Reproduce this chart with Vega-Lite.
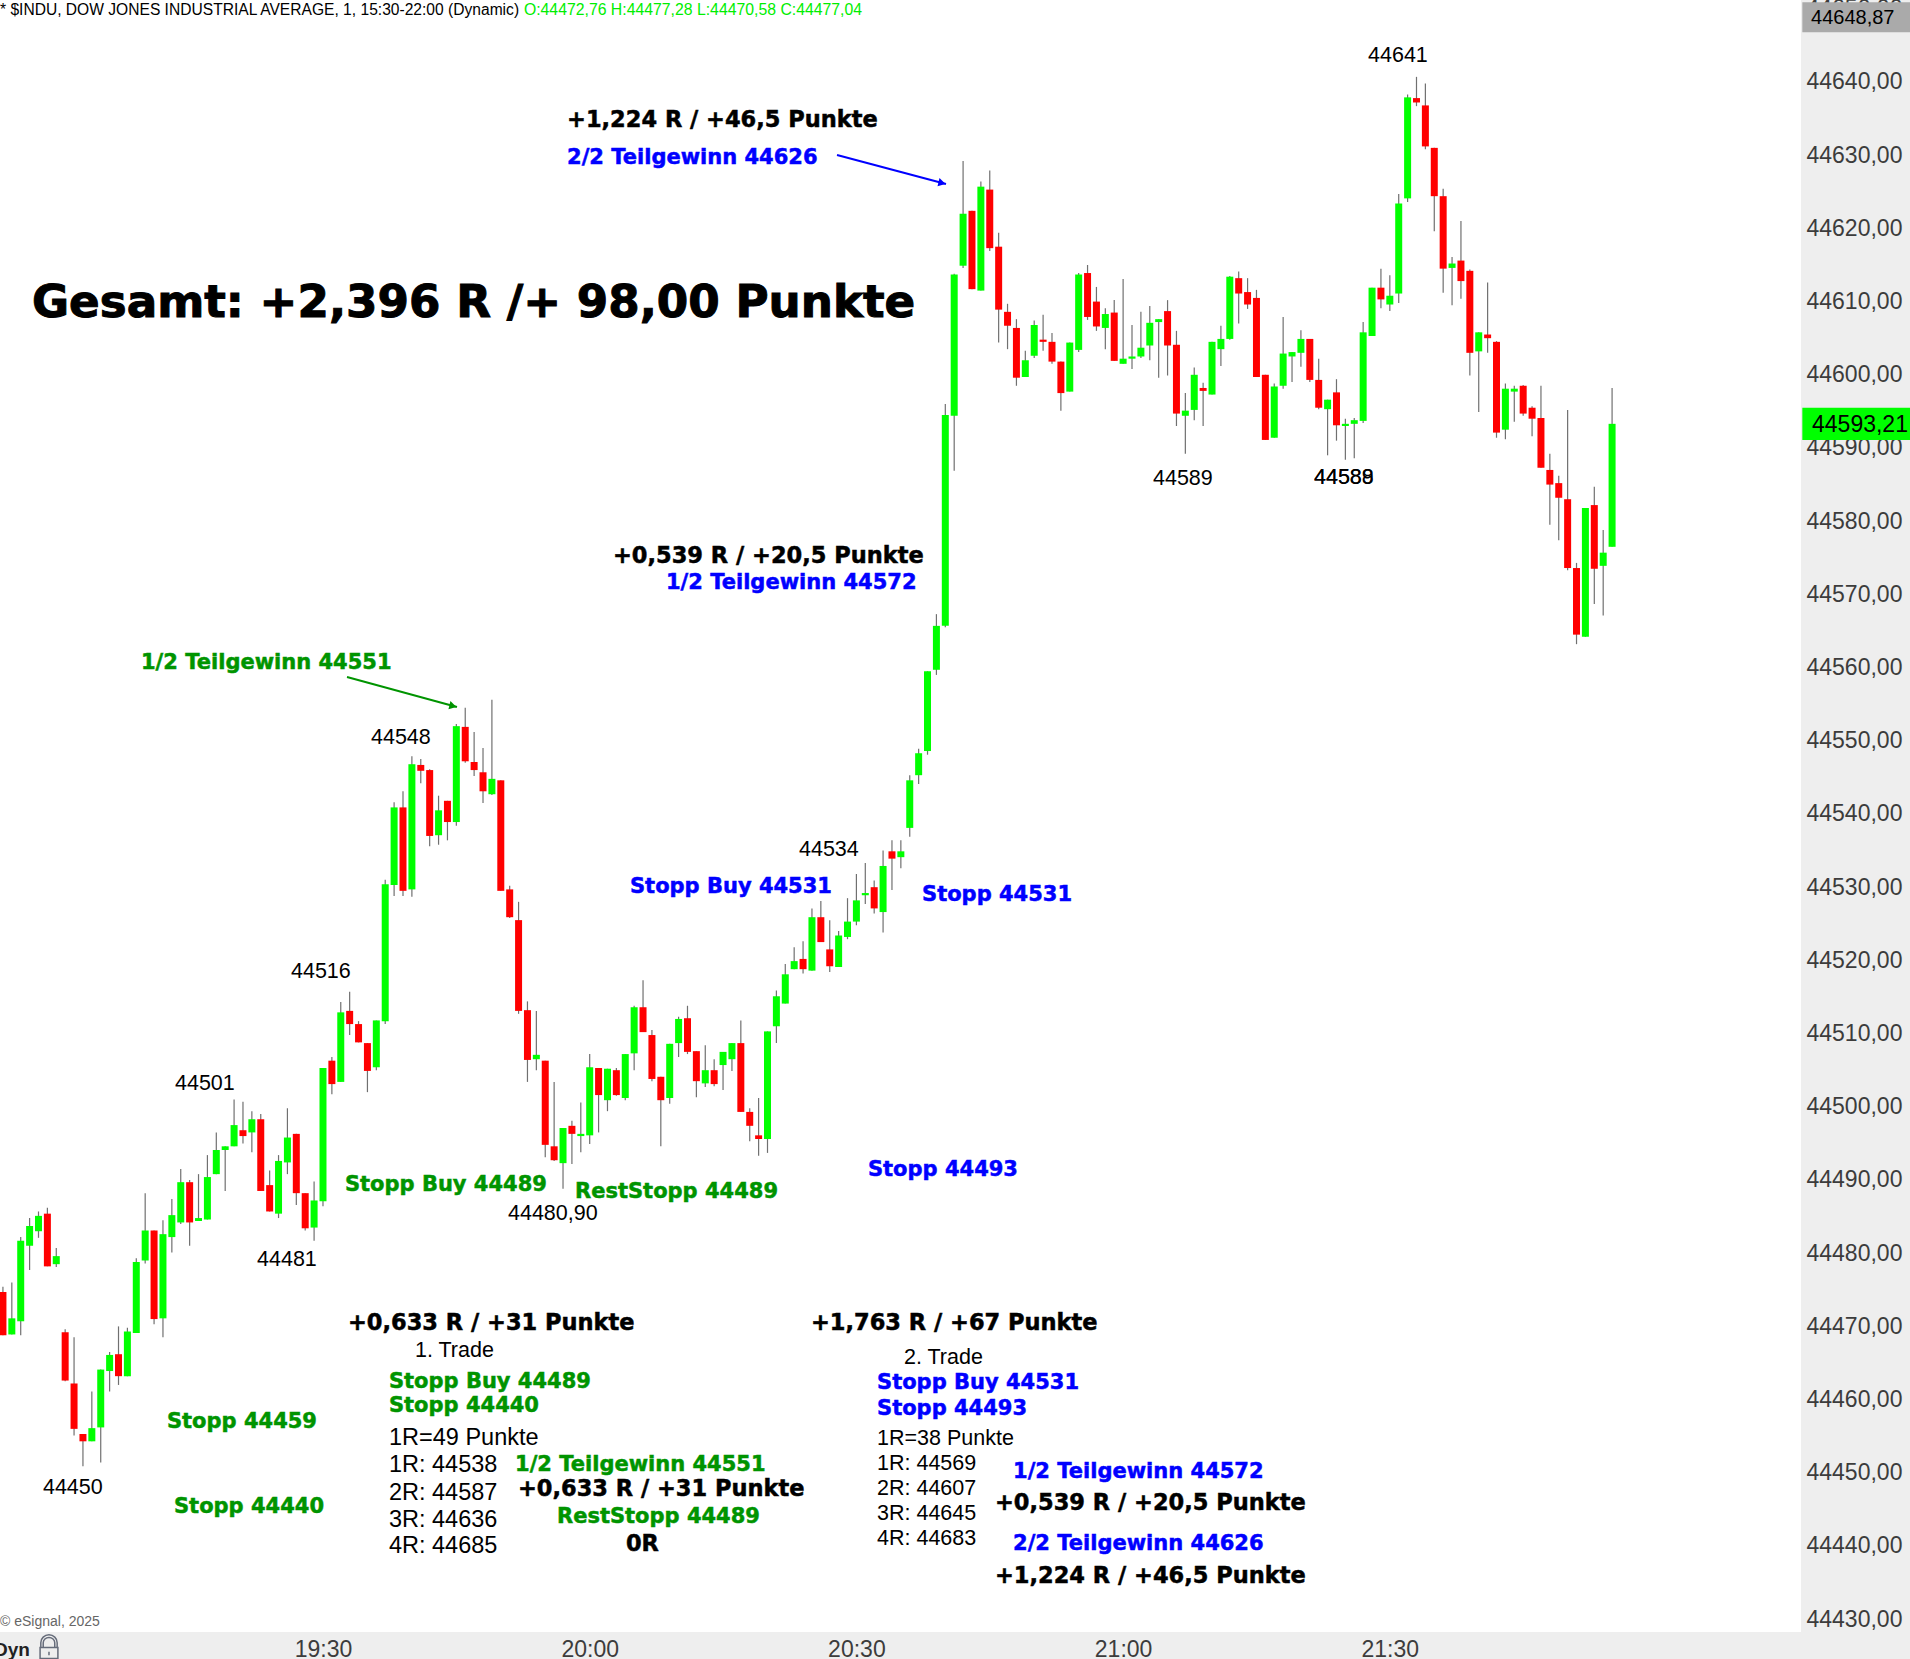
{"$schema":"https://vega.github.io/schema/vega-lite/v6.json","width":1801,"height":1632,"autosize":{"type":"none"},"padding":{"left":0,"top":0,"right":109,"bottom":27},"background":"#eeeeee","view":{"fill":"#ffffff","stroke":null},"config":{"text":{"font":"Liberation Sans"}},
"datasets":{"candles":[
{"m":1134,"o":44474.7,"h":44475.4,"l":44468.8,"c":44468.8},{"m":1135,"o":44468.9,"h":44476.0,"l":44468.9,"c":44471.1},{"m":1136,"o":44470.7,"h":44482.2,"l":44468.8,"c":44481.7},{"m":1137,"o":44481.0,"h":44484.8,"l":44477.7,"c":44483.7},{"m":1138,"o":44483.0,"h":44485.7,"l":44482.1,"c":44485.1},{"m":1139,"o":44485.4,"h":44486.2,"l":44478.2,"c":44478.2},{"m":1140,"o":44478.5,"h":44480.7,"l":44478.1,"c":44479.6},{"m":1141,"o":44469.2,"h":44469.6,"l":44462.5,"c":44462.6},{"m":1142,"o":44462.2,"h":44468.5,"l":44455.1,"c":44456.0},{"m":1143,"o":44455.3,"h":44455.3,"l":44450.9,"c":44454.3},{"m":1144,"o":44454.3,"h":44461.1,"l":44454.3,"c":44456.1},{"m":1145,"o":44456.2,"h":44464.1,"l":44451.4,"c":44464.1},{"m":1146,"o":44463.9,"h":44466.5,"l":44461.1,"c":44466.1},{"m":1147,"o":44466.2,"h":44470.0,"l":44462.0,"c":44463.2},{"m":1148,"o":44463.2,"h":44469.8,"l":44463.2,"c":44469.3},{"m":1149,"o":44469.1,"h":44479.3,"l":44469.1,"c":44478.8},{"m":1150,"o":44479.0,"h":44488.2,"l":44478.6,"c":44483.1},{"m":1151,"o":44483.1,"h":44483.1,"l":44470.3,"c":44471.0},{"m":1152,"o":44471.1,"h":44484.5,"l":44468.5,"c":44482.6},{"m":1153,"o":44482.2,"h":44487.4,"l":44480.1,"c":44485.2},{"m":1154,"o":44484.2,"h":44491.5,"l":44484.0,"c":44489.7},{"m":1155,"o":44489.7,"h":44490.0,"l":44481.0,"c":44484.2},{"m":1156,"o":44484.4,"h":44490.8,"l":44484.4,"c":44484.8},{"m":1157,"o":44484.6,"h":44493.4,"l":44484.6,"c":44490.4},{"m":1158,"o":44490.8,"h":44496.5,"l":44490.8,"c":44494.1},{"m":1159,"o":44494.1,"h":44494.6,"l":44488.5,"c":44494.6},{"m":1160,"o":44494.6,"h":44501.0,"l":44494.6,"c":44497.5},{"m":1161,"o":44496.8,"h":44500.7,"l":44495.0,"c":44496.0},{"m":1162,"o":44496.5,"h":44499.4,"l":44493.8,"c":44498.3},{"m":1163,"o":44498.3,"h":44499.0,"l":44488.5,"c":44488.5},{"m":1164,"o":44489.3,"h":44491.3,"l":44485.7,"c":44485.7},{"m":1165,"o":44485.4,"h":44493.4,"l":44484.8,"c":44492.6},{"m":1166,"o":44492.4,"h":44499.8,"l":44490.8,"c":44495.8},{"m":1167,"o":44496.3,"h":44496.3,"l":44486.6,"c":44488.2},{"m":1168,"o":44488.2,"h":44488.2,"l":44483.1,"c":44483.4},{"m":1169,"o":44483.5,"h":44489.8,"l":44481.7,"c":44487.2},
{"m":1170,"o":44487.1,"h":44505.3,"l":44486.4,"c":44505.3},{"m":1171,"o":44506.3,"h":44506.8,"l":44501.7,"c":44503.1},{"m":1172,"o":44503.4,"h":44514.3,"l":44503.4,"c":44512.9},{"m":1173,"o":44513.1,"h":44515.7,"l":44509.8,"c":44511.3},{"m":1174,"o":44511.3,"h":44511.7,"l":44508.8,"c":44508.8},{"m":1175,"o":44508.7,"h":44508.7,"l":44502.0,"c":44504.9},{"m":1176,"o":44505.4,"h":44511.8,"l":44505.0,"c":44511.8},{"m":1177,"o":44511.7,"h":44531.0,"l":44511.3,"c":44530.4},{"m":1178,"o":44530.3,"h":44541.6,"l":44528.8,"c":44540.9},{"m":1179,"o":44540.9,"h":44543.1,"l":44528.8,"c":44529.5},{"m":1180,"o":44529.7,"h":44547.9,"l":44528.7,"c":44546.8},{"m":1181,"o":44546.7,"h":44547.5,"l":44544.2,"c":44545.9},{"m":1182,"o":44546.0,"h":44546.1,"l":44535.6,"c":44537.0},{"m":1183,"o":44537.1,"h":44542.5,"l":44535.8,"c":44540.5},{"m":1184,"o":44541.8,"h":44541.8,"l":44536.4,"c":44538.9},{"m":1185,"o":44538.9,"h":44552.3,"l":44538.4,"c":44552.0},{"m":1186,"o":44551.9,"h":44554.5,"l":44547.0,"c":44547.2},{"m":1187,"o":44547.1,"h":44551.2,"l":44545.2,"c":44546.0},{"m":1188,"o":44545.7,"h":44549.0,"l":44541.5,"c":44543.1},{"m":1189,"o":44542.7,"h":44555.6,"l":44542.6,"c":44544.8},{"m":1190,"o":44544.6,"h":44544.6,"l":44529.5,"c":44529.5},{"m":1191,"o":44529.7,"h":44530.2,"l":44525.8,"c":44525.9},{"m":1192,"o":44525.5,"h":44528.0,"l":44512.7,"c":44513.1},{"m":1193,"o":44513.2,"h":44514.4,"l":44503.4,"c":44506.4},{"m":1194,"o":44506.5,"h":44513.1,"l":44505.0,"c":44507.1},{"m":1195,"o":44506.3,"h":44506.3,"l":44493.1,"c":44494.8},{"m":1196,"o":44494.6,"h":44503.4,"l":44492.6,"c":44492.7},{"m":1197,"o":44492.3,"h":44497.1,"l":44488.8,"c":44497.1},{"m":1198,"o":44497.4,"h":44498.1,"l":44492.2,"c":44496.3},{"m":1199,"o":44496.0,"h":44500.6,"l":44493.8,"c":44496.3},{"m":1200,"o":44496.1,"h":44507.2,"l":44494.9,"c":44505.4},{"m":1201,"o":44505.3,"h":44505.3,"l":44496.5,"c":44501.6},{"m":1202,"o":44500.9,"h":44505.2,"l":44499.4,"c":44505.2},{"m":1203,"o":44505.0,"h":44505.3,"l":44501.5,"c":44501.6},{"m":1204,"o":44501.2,"h":44507.2,"l":44500.9,"c":44507.2},{"m":1205,"o":44507.3,"h":44513.8,"l":44505.0,"c":44513.6},{"m":1206,"o":44513.6,"h":44517.3,"l":44510.2,"c":44510.2},{"m":1207,"o":44509.8,"h":44510.5,"l":44503.5,"c":44503.8},{"m":1208,"o":44504.1,"h":44504.1,"l":44494.6,"c":44500.9},{"m":1209,"o":44501.2,"h":44508.6,"l":44500.4,"c":44508.6},{"m":1210,"o":44508.7,"h":44512.3,"l":44506.8,"c":44512.0},{"m":1211,"o":44512.1,"h":44513.8,"l":44507.2,"c":44507.5},{"m":1212,"o":44507.6,"h":44507.6,"l":44501.3,"c":44503.5},{"m":1213,"o":44503.2,"h":44508.4,"l":44502.7,"c":44505.0},{"m":1214,"o":44505.0,"h":44506.5,"l":44502.8,"c":44503.1},{"m":1215,"o":44505.7,"h":44507.5,"l":44502.3,"c":44507.5},{"m":1216,"o":44506.5,"h":44508.7,"l":44504.9,"c":44508.7},{"m":1217,"o":44508.7,"h":44511.8,"l":44499.3,"c":44499.3},{"m":1218,"o":44499.3,"h":44499.8,"l":44495.3,"c":44497.4},{"m":1219,"o":44496.1,"h":44501.2,"l":44493.3,"c":44495.6},{"m":1220,"o":44495.6,"h":44510.3,"l":44493.7,"c":44510.3},{"m":1221,"o":44511.0,"h":44515.9,"l":44508.7,"c":44515.1},{"m":1222,"o":44514.1,"h":44519.5,"l":44514.1,"c":44518.1},{"m":1223,"o":44518.8,"h":44521.8,"l":44518.8,"c":44519.9},{"m":1224,"o":44520.2,"h":44522.6,"l":44518.2,"c":44518.8},{"m":1225,"o":44518.6,"h":44527.1,"l":44518.6,"c":44525.9},{"m":1226,"o":44525.9,"h":44528.1,"l":44522.5,"c":44522.5},{"m":1227,"o":44521.5,"h":44525.5,"l":44518.4,"c":44519.2},{"m":1228,"o":44519.1,"h":44524.0,"l":44519.1,"c":44523.4},{"m":1229,"o":44523.2,"h":44528.5,"l":44522.9,"c":44525.3},{"m":1230,"o":44525.3,"h":44531.8,"l":44524.8,"c":44528.2},{"m":1231,"o":44528.9,"h":44533.3,"l":44527.7,"c":44529.2},{"m":1232,"o":44530.0,"h":44530.9,"l":44526.4,"c":44527.1},{"m":1233,"o":44526.6,"h":44535.0,"l":44523.8,"c":44532.9},{"m":1234,"o":44534.9,"h":44536.4,"l":44529.6,"c":44533.9},{"m":1235,"o":44534.1,"h":44536.4,"l":44532.6,"c":44534.9},{"m":1236,"o":44538.1,"h":44545.3,"l":44536.9,"c":44544.6},{"m":1237,"o":44545.3,"h":44548.9,"l":44544.1,"c":44548.3},{"m":1238,"o":44548.6,"h":44559.5,"l":44548.1,"c":44559.5},{"m":1239,"o":44559.7,"h":44567.3,"l":44559.0,"c":44565.7},{"m":1240,"o":44565.7,"h":44596.0,"l":44565.5,"c":44594.5},{"m":1241,"o":44594.4,"h":44613.8,"l":44586.9,"c":44613.7},{"m":1242,"o":44614.9,"h":44629.2,"l":44614.6,"c":44622.0},{"m":1243,"o":44622.4,"h":44622.4,"l":44611.7,"c":44611.7},{"m":1244,"o":44611.5,"h":44626.4,"l":44611.5,"c":44625.7},{"m":1245,"o":44625.3,"h":44627.9,"l":44616.9,"c":44617.3},{"m":1246,"o":44617.5,"h":44619.4,"l":44604.4,"c":44608.9},{"m":1247,"o":44608.6,"h":44609.7,"l":44603.5,"c":44606.7},{"m":1248,"o":44606.4,"h":44607.6,"l":44598.5,"c":44599.6},{"m":1249,"o":44599.7,"h":44603.3,"l":44599.7,"c":44602.0},{"m":1250,"o":44602.6,"h":44607.4,"l":44602.3,"c":44606.8},{"m":1251,"o":44604.8,"h":44608.2,"l":44603.3,"c":44604.5},{"m":1252,"o":44604.5,"h":44605.7,"l":44601.5,"c":44601.8},{"m":1253,"o":44601.8,"h":44601.8,"l":44595.1,"c":44597.5},{"m":1254,"o":44597.7,"h":44604.4,"l":44597.7,"c":44604.4},{"m":1255,"o":44603.4,"h":44613.9,"l":44603.1,"c":44613.7},{"m":1256,"o":44613.9,"h":44615.0,"l":44607.5,"c":44607.9},{"m":1257,"o":44610.0,"h":44612.0,"l":44606.0,"c":44606.6},{"m":1258,"o":44606.4,"h":44609.1,"l":44603.5,"c":44608.3},{"m":1259,"o":44608.5,"h":44610.2,"l":44601.9,"c":44601.9},{"m":1260,"o":44601.5,"h":44613.1,"l":44601.5,"c":44602.2},{"m":1261,"o":44602.2,"h":44606.8,"l":44600.8,"c":44602.5},{"m":1262,"o":44602.5,"h":44608.6,"l":44602.3,"c":44603.7},{"m":1263,"o":44604.0,"h":44609.4,"l":44602.0,"c":44607.1},{"m":1264,"o":44607.2,"h":44607.6,"l":44599.6,"c":44607.6},{"m":1265,"o":44608.7,"h":44610.2,"l":44599.9,"c":44604.0},{"m":1266,"o":44604.1,"h":44606.0,"l":44593.0,"c":44594.7},{"m":1267,"o":44594.4,"h":44597.5,"l":44589.2,"c":44595.1},{"m":1268,"o":44595.2,"h":44601.0,"l":44593.8,"c":44600.0},{"m":1269,"o":44598.2,"h":44598.9,"l":44593.0,"c":44597.8},{"m":1270,"o":44597.3,"h":44604.5,"l":44597.3,"c":44604.5},{"m":1271,"o":44603.5,"h":44606.7,"l":44601.2,"c":44604.9},{"m":1272,"o":44604.9,"h":44613.5,"l":44604.8,"c":44613.4},{"m":1273,"o":44613.2,"h":44614.1,"l":44607.0,"c":44611.1},{"m":1274,"o":44611.3,"h":44613.2,"l":44609.0,"c":44609.6},{"m":1275,"o":44610.5,"h":44611.6,"l":44599.7,"c":44599.7},{"m":1276,"o":44600.0,"h":44600.0,"l":44591.1,"c":44591.1},{"m":1277,"o":44591.4,"h":44598.8,"l":44591.4,"c":44598.4},{"m":1278,"o":44598.5,"h":44607.9,"l":44598.1,"c":44602.9},{"m":1279,"o":44602.5,"h":44603.1,"l":44599.0,"c":44603.1},{"m":1280,"o":44603.0,"h":44606.1,"l":44601.1,"c":44604.9},{"m":1281,"o":44604.9,"h":44604.9,"l":44599.0,"c":44599.3},{"m":1282,"o":44599.3,"h":44602.2,"l":44595.3,"c":44595.5},{"m":1283,"o":44595.3,"h":44596.6,"l":44589.0,"c":44596.6},{"m":1284,"o":44597.6,"h":44599.4,"l":44591.0,"c":44593.1},{"m":1285,"o":44593.0,"h":44594.0,"l":44588.4,"c":44593.3},{"m":1286,"o":44593.3,"h":44594.1,"l":44588.6,"c":44593.8},{"m":1287,"o":44593.7,"h":44607.2,"l":44593.4,"c":44605.8},{"m":1288,"o":44605.3,"h":44611.9,"l":44605.3,"c":44611.9},{"m":1289,"o":44611.9,"h":44614.5,"l":44609.1,"c":44610.3},{"m":1290,"o":44609.6,"h":44613.6,"l":44608.7,"c":44610.8},{"m":1291,"o":44611.1,"h":44624.7,"l":44609.8,"c":44623.4},{"m":1292,"o":44624.1,"h":44638.3,"l":44623.6,"c":44637.9},{"m":1293,"o":44637.8,"h":44640.7,"l":44636.7,"c":44637.2},{"m":1294,"o":44636.8,"h":44639.8,"l":44630.8,"c":44631.2},{"m":1295,"o":44631.0,"h":44631.0,"l":44619.6,"c":44624.4},{"m":1296,"o":44624.4,"h":44625.4,"l":44611.2,"c":44614.5},{"m":1297,"o":44614.6,"h":44616.1,"l":44609.5,"c":44615.2},{"m":1298,"o":44615.6,"h":44621.0,"l":44610.4,"c":44612.8},{"m":1299,"o":44614.2,"h":44614.4,"l":44599.9,"c":44603.0},{"m":1300,"o":44603.2,"h":44605.8,"l":44594.9,"c":44605.8},{"m":1301,"o":44605.5,"h":44612.6,"l":44603.0,"c":44605.0},{"m":1302,"o":44604.5,"h":44604.6,"l":44591.4,"c":44592.1},{"m":1303,"o":44592.5,"h":44598.8,"l":44591.2,"c":44598.1},{"m":1304,"o":44597.7,"h":44598.5,"l":44593.6,"c":44598.1},{"m":1305,"o":44598.5,"h":44598.6,"l":44594.4,"c":44594.7},{"m":1306,"o":44595.5,"h":44595.7,"l":44591.6,"c":44594.0},{"m":1307,"o":44594.1,"h":44598.5,"l":44587.3,"c":44587.3},{"m":1308,"o":44587.0,"h":44589.2,"l":44579.5,"c":44585.0},{"m":1309,"o":44585.2,"h":44586.2,"l":44577.4,"c":44583.2},{"m":1310,"o":44583.0,"h":44595.2,"l":44573.3,"c":44573.6},{"m":1311,"o":44573.6,"h":44574.3,"l":44563.2,"c":44564.5},{"m":1312,"o":44564.2,"h":44581.8,"l":44564.2,"c":44581.8},{"m":1313,"o":44582.2,"h":44584.7,"l":44568.7,"c":44573.5},{"m":1314,"o":44573.9,"h":44578.8,"l":44567.1,"c":44575.7},{"m":1315,"o":44576.5,"h":44598.2,"l":44576.5,"c":44593.3}],
"notes":[
{"text":"Gesamt: +2,396 R /+ 98,00 Punkte","m":1137.27,"p":44610.08,"group":"total"},
{"text":"+1,224 R / +46,5 Punkte","m":1197.45,"p":44635.08,"group":"result"},
{"text":"2/2 Teilgewinn 44626","m":1197.45,"p":44629.89,"group":"trade2"},
{"text":"+0,539 R / +20,5 Punkte","m":1202.62,"p":44575.52,"group":"result"},
{"text":"1/2 Teilgewinn 44572","m":1208.58,"p":44571.83,"group":"trade2"},
{"text":"1/2 Teilgewinn 44551","m":1149.53,"p":44560.9,"group":"trade1"},
{"text":"Stopp Buy 44531","m":1204.53,"p":44530.3,"group":"trade2"},
{"text":"Stopp 44531","m":1237.38,"p":44529.21,"group":"trade2"},
{"text":"Stopp Buy 44489","m":1172.47,"p":44489.59,"group":"trade1"},
{"text":"RestStopp 44489","m":1198.35,"p":44488.63,"group":"trade1"},
{"text":"Stopp 44493","m":1231.3,"p":44491.64,"group":"trade2"},
{"text":"Stopp 44459","m":1152.45,"p":44457.21,"group":"trade1"},
{"text":"Stopp 44440","m":1153.24,"p":44445.6,"group":"trade1"},
{"text":"+0,633 R / +31 Punkte","m":1172.81,"p":44470.74,"group":"result"},
{"text":"1. Trade","m":1180.35,"p":44466.91,"group":"note"},
{"text":"Stopp Buy 44489","m":1177.42,"p":44462.68,"group":"trade1"},
{"text":"Stopp 44440","m":1177.42,"p":44459.4,"group":"trade1"},
{"text":"1R=49 Punkte","m":1177.42,"p":44455.03,"group":"level"},
{"text":"1R: 44538","m":1177.42,"p":44451.34,"group":"level"},
{"text":"2R: 44587","m":1177.42,"p":44447.51,"group":"level"},
{"text":"3R: 44636","m":1177.42,"p":44443.83,"group":"level"},
{"text":"4R: 44685","m":1177.42,"p":44440.27,"group":"level"},
{"text":"1/2 Teilgewinn 44551","m":1191.6,"p":44451.34,"group":"trade1"},
{"text":"+0,633 R / +31 Punkte","m":1191.93,"p":44448.06,"group":"result"},
{"text":"RestStopp 44489","m":1196.32,"p":44444.24,"group":"trade1"},
{"text":"0R","m":1204.08,"p":44440.55,"group":"result"},
{"text":"+1,763 R / +67 Punkte","m":1224.89,"p":44470.74,"group":"result"},
{"text":"2. Trade","m":1235.35,"p":44465.96,"group":"note"},
{"text":"Stopp Buy 44531","m":1232.32,"p":44462.54,"group":"trade2"},
{"text":"Stopp 44493","m":1232.32,"p":44458.99,"group":"trade2"},
{"text":"1R=38 Punkte","m":1232.32,"p":44454.89,"group":"note"},
{"text":"1R: 44569","m":1232.32,"p":44451.48,"group":"note"},
{"text":"2R: 44607","m":1232.32,"p":44448.06,"group":"note"},
{"text":"3R: 44645","m":1232.32,"p":44444.64,"group":"note"},
{"text":"4R: 44683","m":1232.32,"p":44441.23,"group":"note"},
{"text":"1/2 Teilgewinn 44572","m":1247.62,"p":44450.38,"group":"trade2"},
{"text":"+0,539 R / +20,5 Punkte","m":1245.59,"p":44446.15,"group":"result"},
{"text":"2/2 Teilgewinn 44626","m":1247.62,"p":44440.55,"group":"trade2"},
{"text":"+1,224 R / +46,5 Punkte","m":1245.59,"p":44436.17,"group":"result"},
{"text":"44641","m":1287.55,"p":44643.83,"group":"note"},
{"text":"44548","m":1175.4,"p":44550.66,"group":"note"},
{"text":"44516","m":1166.4,"p":44518.69,"group":"note"},
{"text":"44501","m":1153.35,"p":44503.39,"group":"note"},
{"text":"44481","m":1162.58,"p":44479.34,"group":"note"},
{"text":"44450","m":1138.5,"p":44448.2,"group":"note"},
{"text":"44480,90","m":1190.81,"p":44485.63,"group":"note"},
{"text":"44534","m":1223.54,"p":44535.36,"group":"note"},
{"text":"44589","m":1263.36,"p":44586.04,"group":"note"},
{"text":"44588","m":1281.47,"p":44586.17,"group":"note"},
{"text":"44589","m":1281.47,"p":44586.17,"group":"note"}],
"arrows":[{"m":1172.7,"p":44558.72,"m2":1185.07,"p2":44554.62,"group":"trade1"},{"m":1227.82,"p":44630.03,"m2":1240.08,"p2":44626.07,"group":"trade2"}],
"heads":[{"m":1184.62,"p":44554.75,"group":"trade1"},{"m":1239.63,"p":44626.2,"group":"trade2"}]},
"data":{"name":"notes"},
"encoding":{"x":{"field":"m","type":"quantitative","title":null,"scale":{"domain":[1133.67,1336.25],"nice":false,"zero":false,"padding":0},"axis":{"orient":"bottom","values":[1170,1200,1230,1260,1290],"labelExpr":"floor(datum.value/60)+':'+(datum.value%60<10?'0':'')+(datum.value%60)","ticks":false,"domain":false,"grid":false,"labelFont":"Liberation Sans","labelFontSize":23,"labelColor":"#3c3c3c","labelPadding":6,"labelOverlap":false,"labelBound":false,"labelFlush":false}},"y":{"field":"p","type":"quantitative","title":null,"scale":{"domain":[44428.25,44651.2],"nice":false,"zero":false},"axis":{"orient":"right","values":[44430,44440,44450,44460,44470,44480,44490,44500,44510,44520,44530,44540,44550,44560,44570,44580,44590,44600,44610,44620,44630,44640,44650],"labelExpr":"replace(format(datum.value,'.2f'),'.',',')","ticks":false,"domain":false,"grid":false,"labelFont":"Liberation Sans","labelFontSize":23,"labelColor":"#3c3c3c","labelPadding":5,"labelOverlap":false,"labelBound":false,"labelFlush":false}}},
"layer":[
{"data":{"name":"candles"},"mark":{"type":"rule","color":"#707070","strokeWidth":1.2},"encoding":{"y":{"field":"h"},"y2":{"field":"l"}}},
{"data":{"name":"candles"},"mark":{"type":"bar","size":7},"encoding":{"y":{"field":"o"},"y2":{"field":"c"},"color":{"condition":{"test":"datum.c>=datum.o","value":"#00ff00"},"value":"#ff0000"}}},
{"data":{"name":"arrows"},"mark":{"type":"rule","strokeWidth":2},"encoding":{"x2":{"field":"m2"},"y2":{"field":"p2"},"color":{"field":"group","type":"nominal","legend":null,"scale":{"domain":["result","trade1","trade2"],"range":["#000000","#009400","#0000ff"]}}}},
{"data":{"name":"heads"},"mark":{"type":"point","shape":"triangle-right","filled":true,"size":70,"opacity":1,"angle":14},"encoding":{"color":{"field":"group","type":"nominal","legend":null,"scale":{"domain":["result","trade1","trade2"],"range":["#000000","#009400","#0000ff"]}}}},
{"transform":[{"filter":"datum.group==='trade1'||datum.group==='trade2'"}],"mark":{"type":"text","font":"DejaVu Sans","fontWeight":"bold","fontSize":21,"align":"left","baseline":"middle","dy":2,"strokeWidth":0.5},"encoding":{"text":{"field":"text"},"color":{"field":"group","type":"nominal","legend":null,"scale":{"domain":["result","trade1","trade2"],"range":["#000000","#009400","#0000ff"]}},"stroke":{"field":"group","type":"nominal","legend":null,"scale":{"domain":["result","trade1","trade2"],"range":["#000000","#009400","#0000ff"]}}}},
{"transform":[{"filter":"datum.group==='result'"}],"mark":{"type":"text","font":"DejaVu Sans","fontWeight":"bold","fontSize":22.5,"align":"left","baseline":"middle","dy":2,"color":"#000000","stroke":"#000000","strokeWidth":0.5},"encoding":{"text":{"field":"text"}}},
{"transform":[{"filter":"datum.group==='total'"}],"mark":{"type":"text","font":"DejaVu Sans","fontWeight":"bold","fontSize":45.2,"align":"left","baseline":"middle","dy":2,"color":"#000000","stroke":"#000000","strokeWidth":1},"encoding":{"text":{"field":"text"}}},
{"transform":[{"filter":"datum.group==='note'"}],"mark":{"type":"text","font":"Liberation Sans","fontSize":21.5,"align":"left","baseline":"middle","dy":2,"color":"#000000"},"encoding":{"text":{"field":"text"}}},
{"transform":[{"filter":"datum.group==='level'"}],"mark":{"type":"text","font":"Liberation Sans","fontSize":23.5,"align":"left","baseline":"middle","dy":2,"color":"#000000"},"encoding":{"text":{"field":"text"}}},
{"data":{"values":[{"m":1336.4,"m2":1350,"p":44650.9,"p2":44646.8}]},"mark":{"type":"rect","color":"#aaaaaa"},"encoding":{"x2":{"field":"m2"},"y2":{"field":"p2"}}},
{"data":{"values":[{"m":1336.4,"m2":1350,"p":44595.5,"p2":44591.1}]},"mark":{"type":"rect","color":"#00ff00"},"encoding":{"x2":{"field":"m2"},"y2":{"field":"p2"}}},
{"data":{"values":[{"m":1337.38,"p":44648.87,"text":"44648,87"}]},"mark":{"type":"text","font":"Liberation Sans","fontSize":20,"align":"left","baseline":"middle","dy":1,"color":"#000000"},"encoding":{"text":{"field":"text"}}},
{"data":{"values":[{"m":1337.49,"p":44593.21,"text":"44593,21"}]},"mark":{"type":"text","font":"Liberation Sans","fontSize":23,"align":"left","baseline":"middle","dy":1,"color":"#000000"},"encoding":{"text":{"field":"text"}}},
{"data":{"values":[{"m":1133.67,"p":44649.84,"text":"* $INDU, DOW JONES INDUSTRIAL AVERAGE, 1, 15:30-22:00 (Dynamic)"}]},"mark":{"type":"text","font":"Liberation Sans","fontSize":15.6,"align":"left","baseline":"middle","color":"#000000"},"encoding":{"text":{"field":"text"}}},
{"data":{"values":[{"m":1192.6,"p":44649.84,"text":"O:44472,76 H:44477,28 L:44470,58 C:44477,04"}]},"mark":{"type":"text","font":"Liberation Sans","fontSize":15.8,"align":"left","baseline":"middle","color":"#00ee00"},"encoding":{"text":{"field":"text"}}},
{"data":{"values":[{"m":1133.67,"p":44429.62,"text":"© eSignal, 2025"}]},"mark":{"type":"text","font":"Liberation Sans","fontSize":14,"align":"left","baseline":"middle","color":"#666666"},"encoding":{"text":{"field":"text"}}},
{"data":{"values":[{"m":1133.0,"p":44425.8,"text":"Dyn"}]},"mark":{"type":"text","font":"Liberation Sans","fontWeight":"bold","fontSize":19,"align":"left","baseline":"middle","color":"#222222"},"encoding":{"text":{"field":"text"}}},
{"data":{"values":[{"m":1139.18,"p":44426.07}]},"mark":{"type":"point","shape":"M-0.85,-0.05 H0.85 V1 H-0.85 Z M-0.55,-0.05 V-0.5 A0.55,0.5 0 0 1 0.55,-0.5 V-0.05 M-0.78,-0.05 V-0.5 A0.78,0.75 0 0 1 0.78,-0.5 V-0.05 M0,0.35 V0.7","filled":false,"stroke":"#666c7a","strokeWidth":1.5,"size":440,"opacity":1}}
]}
